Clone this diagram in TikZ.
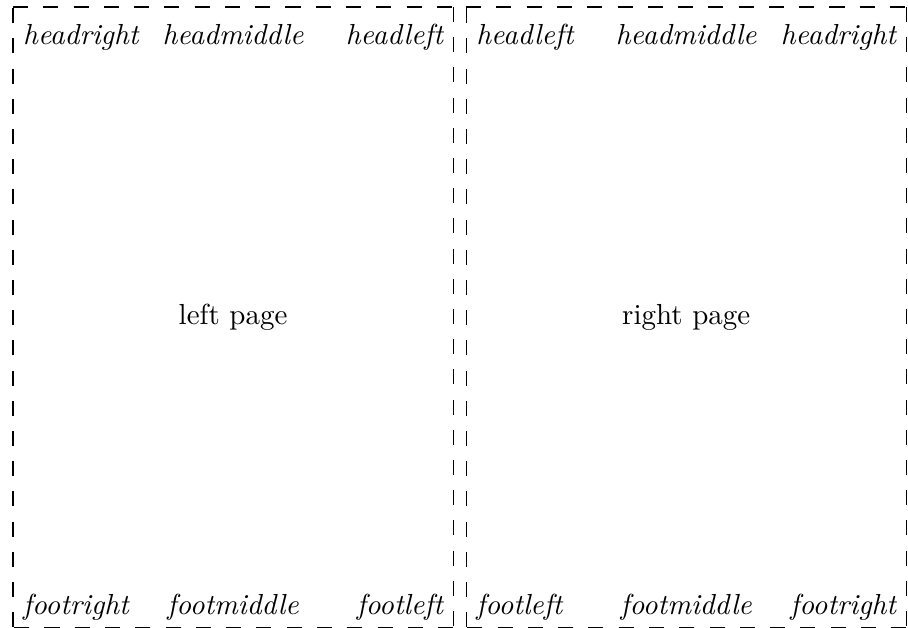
\documentclass[tikz,border=0pt]{standalone}
\usetikzlibrary{positioning}
\begin{document}
\begin{tikzpicture}[
  page/.style={rectangle, minimum width=151.45pt, minimum height=213.55pt, inner sep=0pt},
  hedge/.style={dash pattern=on 5.2pt off 5.246pt},
  vedge/.style={dash pattern=on 5.2pt off 5.2175pt},
  marg/.style={font=\itshape}]
\useasboundingbox (0,0) rectangle (313.26pt,-216.66pt);
% the two pages
\node[page, anchor=north west] (lp) at (4.48pt,-2.42pt) {left page};
\node[page, right=4.48pt of lp] (rp) {right page};
% dashed page edges, one side at a time
\foreach \pg in {lp,rp} {
  \draw[hedge] (\pg.north west) -- (\pg.north east);
  \draw[vedge] (\pg.north east) -- (\pg.south east);
  \draw[hedge] (\pg.south east) -- (\pg.south west);
  \draw[vedge] (\pg.south west) -- (\pg.north west);
}
% left page: head and foot
\node[marg, anchor=base west] (lhr) at ([yshift=-13.1pt]lp.north west) {headright};
\node[marg, anchor=base] (lhm) at ([yshift=-13.1pt]lp.north) {headmiddle};
\node[marg, anchor=base east] (lhl) at ([yshift=-13.1pt]lp.north east) {headleft};
\node[marg, anchor=base west] (lfr) at ([yshift=4.5pt]lp.south west) {footright};
\node[marg, anchor=base] (lfm) at ([yshift=4.5pt]lp.south) {footmiddle};
\node[marg, anchor=base east] (lfl) at ([yshift=4.5pt]lp.south east) {footleft};
% right page: head and foot
\node[marg, anchor=base west] (rhl) at ([yshift=-13.1pt]rp.north west) {headleft};
\node[marg, anchor=base] (rhm) at ([yshift=-13.1pt]rp.north) {headmiddle};
\node[marg, anchor=base east] (rhr) at ([yshift=-13.1pt]rp.north east) {headright};
\node[marg, anchor=base west] (rfl) at ([yshift=4.5pt]rp.south west) {footleft};
\node[marg, anchor=base] (rfm) at ([yshift=4.5pt]rp.south) {footmiddle};
\node[marg, anchor=base east] (rfr) at ([yshift=4.5pt]rp.south east) {footright};
\end{tikzpicture}
\end{document}
